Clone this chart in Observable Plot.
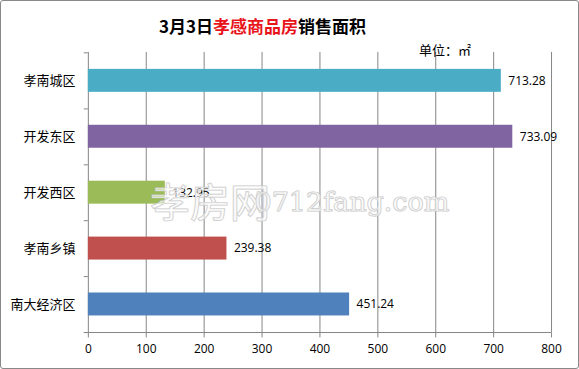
<!DOCTYPE html>
<html><head><meta charset="utf-8">
<script src="https://cdn.jsdelivr.net/npm/d3@7"></script>
<script src="https://cdn.jsdelivr.net/npm/@observablehq/plot@0.6"></script>
<style>
body{margin:0;background:#fff;}
#wrap{position:relative;width:577px;height:367px;border:1px solid #888;border-radius:3px;overflow:hidden;background:#fff;}
#title{position:absolute;left:158px;top:12px;font:bold 17px "Noto Sans CJK SC",sans-serif;color:#000;white-space:nowrap;}
#title .r{color:#e8141b;}
#unit{position:absolute;left:418px;top:39px;font:13px "Noto Sans CJK SC",sans-serif;color:#000;white-space:nowrap;}
#chart{position:absolute;left:-1px;top:-1px;}
</style></head>
<body>
<div id="wrap">
<div id="chart"></div>
<div id="title">3月3日<span class="r">孝感商品房</span>销售面积</div>
<div id="unit">单位：㎡</div>
</div>
<script>
const categories = ["孝南城区","开发东区","开发西区","孝南乡镇","南大经济区"];
const values = [713.28, 733.09, 132.95, 239.38, 451.24];
const colors = ["#4BACC6","#8064A2","#9BBB59","#C0504D","#4F81BD"];
const xTicks = [0,100,200,300,400,500,600,700,800];

const data = categories.map((c,i)=>({cat:c, value:values[i], color:colors[i]}));
const grey = "#868686";

const chart = Plot.plot({
  width: 579, height: 369,
  marginLeft: 88, marginRight: 27, marginTop: 52, marginBottom: 36,
  style: {fontFamily: '"Noto Sans CJK SC", sans-serif', background: "transparent"},
  x: {domain: [0,800], ticks: xTicks, tickSize: 5, tickPadding: 7, tickFormat: d=>String(d), label: null},
  y: {domain: categories, paddingInner: 0.59, paddingOuter: 0.295, tickSize: 0, tickPadding: 13, label: null},
  marks: [
    Plot.ruleX(xTicks, {x: d=>d, stroke: grey, strokeOpacity: 1}),
    Plot.ruleY(categories, {y: d=>d, x1: -7, x2: 0, dy: 28.1, stroke: grey}),
    Plot.ruleY([categories[0]], {y: d=>d, x1: -7, x2: 0, dy: -28.1, stroke: grey}),
    Plot.ruleY([categories[categories.length-1]], {y: d=>d, x1: -7, x2: 800, dy: 28.1, stroke: grey}),
    Plot.barX(data, {y: "cat", x: "value", fill: "color"}),
    Plot.text(data, {y: "cat", x: "value", text: d=>d.value.toFixed(2), textAnchor: "start", dx: 7, fontSize: 12, fill: "#000", fontFamily: '"Open Sans", sans-serif'}),
    Plot.text(["孝房网"], {text: d=>d, frameAnchor: "middle", dx: -110, dy: 12, fontSize: 40, fill: "white", fillOpacity: 0.55, stroke: "#c8c8c8", strokeWidth: 1.2, fontFamily: '"Noto Sans CJK SC", sans-serif'}),
    Plot.text(["0712fang.com"], {text: d=>d, frameAnchor: "middle", dx: 32, dy: 10, fontSize: 27, fill: "white", fillOpacity: 0.55, stroke: "#c8c8c8", strokeWidth: 1.2, fontFamily: '"DejaVu Serif", serif'})
  ]
});
chart.querySelectorAll('[aria-label="x-axis tick"] path, [aria-label="x-axis tick"]').forEach(e=>e.setAttribute("stroke", grey));
chart.querySelectorAll('[aria-label="x-axis tick label"]').forEach(e=>{e.setAttribute("font-size","12"); e.setAttribute("font-family",'"Open Sans", sans-serif'); e.setAttribute("fill","#000");});
chart.querySelectorAll('[aria-label="y-axis tick label"]').forEach(e=>{e.setAttribute("font-size","13"); e.setAttribute("fill","#000");});
document.getElementById("chart").appendChild(chart);
</script>
</body></html>
